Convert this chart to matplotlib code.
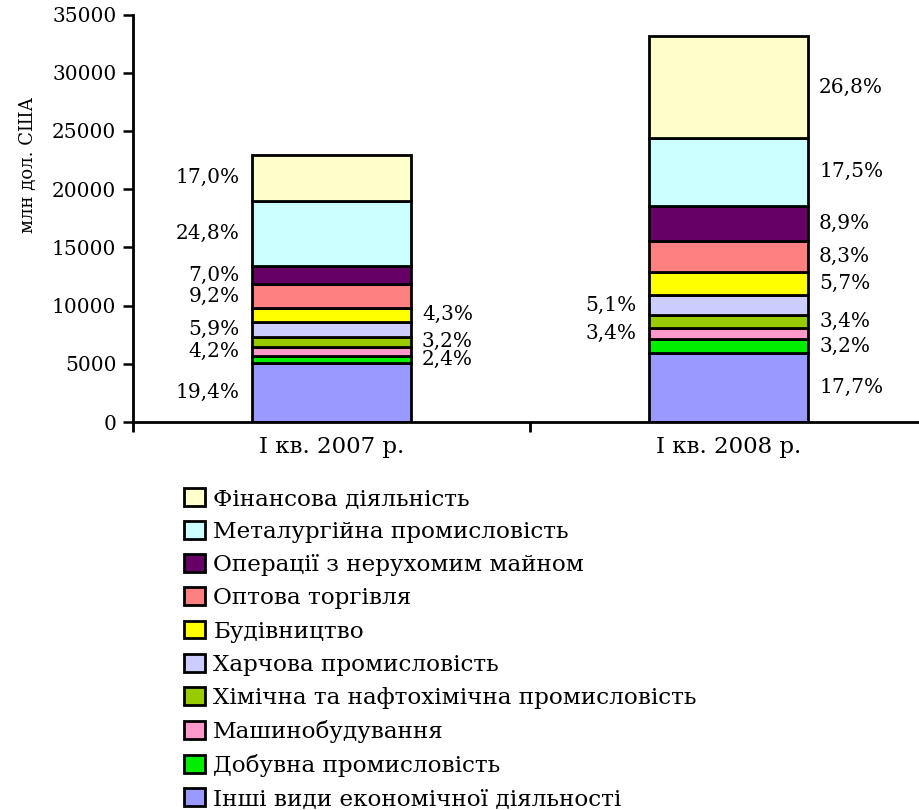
import matplotlib
matplotlib.use("Agg")
import matplotlib.pyplot as plt
from matplotlib.patches import Patch

plt.rcParams['font.family'] = ['DejaVu Serif']

# Categories (quarters) and sectors, bottom of stack first
quarters = ['I кв. 2007 р.', 'I кв. 2008 р.']
sectors = ['Інші види економічної діяльності', 'Добувна промисловість',
           'Машинобудування', 'Хімічна та нафтохімічна промисловість',
           'Харчова промисловість', 'Будівництво', 'Оптова торгівля',
           'Операції з нерухомим майном', 'Металургійна промисловість',
           'Фінансова діяльність']
colors = ['#9999FF', '#00EE00', '#FF99CC', '#99CC00', '#CCCCFF',
          '#FFFF00', '#FF8080', '#660066', '#CCFFFF', '#FFFFCC']

# млн дол. США per sector
vals_2007 = [5100, 600, 780, 810, 1340, 1150, 2060, 1570, 5590, 3960]
vals_2008 = [5910, 1230, 950, 1090, 1690, 2010, 2630, 3070, 5820, 8740]

# share labels and which side of the bar they sit on
pct_2007 = ['19,4%', '2,4%', '4,2%', '3,2%', '5,9%', '4,3%', '9,2%', '7,0%', '24,8%', '17,0%']
side_2007 = ['l', 'r', 'l', 'r', 'l', 'r', 'l', 'l', 'l', 'l']
pct_2008 = ['17,7%', '3,2%', '3,4%', '3,4%', '5,1%', '5,7%', '8,3%', '8,9%', '17,5%', '26,8%']
side_2008 = ['r', 'r', 'l', 'r', 'l', 'r', 'r', 'r', 'r', 'r']

fig = plt.figure(figsize=(9.19, 8.10), dpi=100)
ax = fig.add_axes([0.1447, 0.479, 0.864, 0.503])

width = 0.4
series = [vals_2007, vals_2008]
pcts = [pct_2007, pct_2008]
sides = [side_2007, side_2008]

for i in range(len(quarters)):
    bottom = 0
    for j, v in enumerate(series[i]):
        ax.bar(i, v, width, bottom=bottom, color=colors[j],
               edgecolor='black', linewidth=2.0)
        mid = bottom + v / 2
        if sides[i][j] == 'l':
            ax.annotate(pcts[i][j], (i - width / 2, mid), xytext=(-9, 0),
                        textcoords='offset points', ha='right', va='center',
                        fontsize=14.5)
        else:
            ax.annotate(pcts[i][j], (i + width / 2, mid), xytext=(8, 0),
                        textcoords='offset points', ha='left', va='center',
                        fontsize=14.5)
        bottom += v

ax.set_xlim(-0.5, 1.5)
ax.set_ylim(0, 35000)
ax.set_yticks(range(0, 35001, 5000))
ax.set_xticks([0, 1])
ax.set_xticklabels(quarters, fontsize=16.5)
ax.set_xticks([-0.5, 0.5], minor=True)
ax.tick_params(axis='x', which='major', length=0, pad=10)
ax.tick_params(axis='x', which='minor', length=7, width=2, direction='out')
ax.tick_params(axis='y', length=7, width=1.8, direction='out', labelsize=14.5, pad=5)

for s in ['top', 'right']:
    ax.spines[s].set_visible(False)
for s in ['left', 'bottom']:
    ax.spines[s].set_linewidth(2)

ax.set_ylabel('млн дол. США', fontsize=13, va='center')
ax.yaxis.set_label_coords(-0.132, 0.63)

# Legend, top of stack first
handles = [Patch(facecolor=colors[j], edgecolor='black', linewidth=2)
           for j in range(len(sectors) - 1, -1, -1)]
labels = [sectors[j] for j in range(len(sectors) - 1, -1, -1)]
fig.legend(handles, labels, loc='upper left', bbox_to_anchor=(0.2005, 0.3975),
           frameon=False, fontsize=16.7, handlelength=0.9, handleheight=0.8,
           handletextpad=0.35, labelspacing=0.48, borderpad=0, borderaxespad=0)

plt.savefig('out.png', dpi=100)
